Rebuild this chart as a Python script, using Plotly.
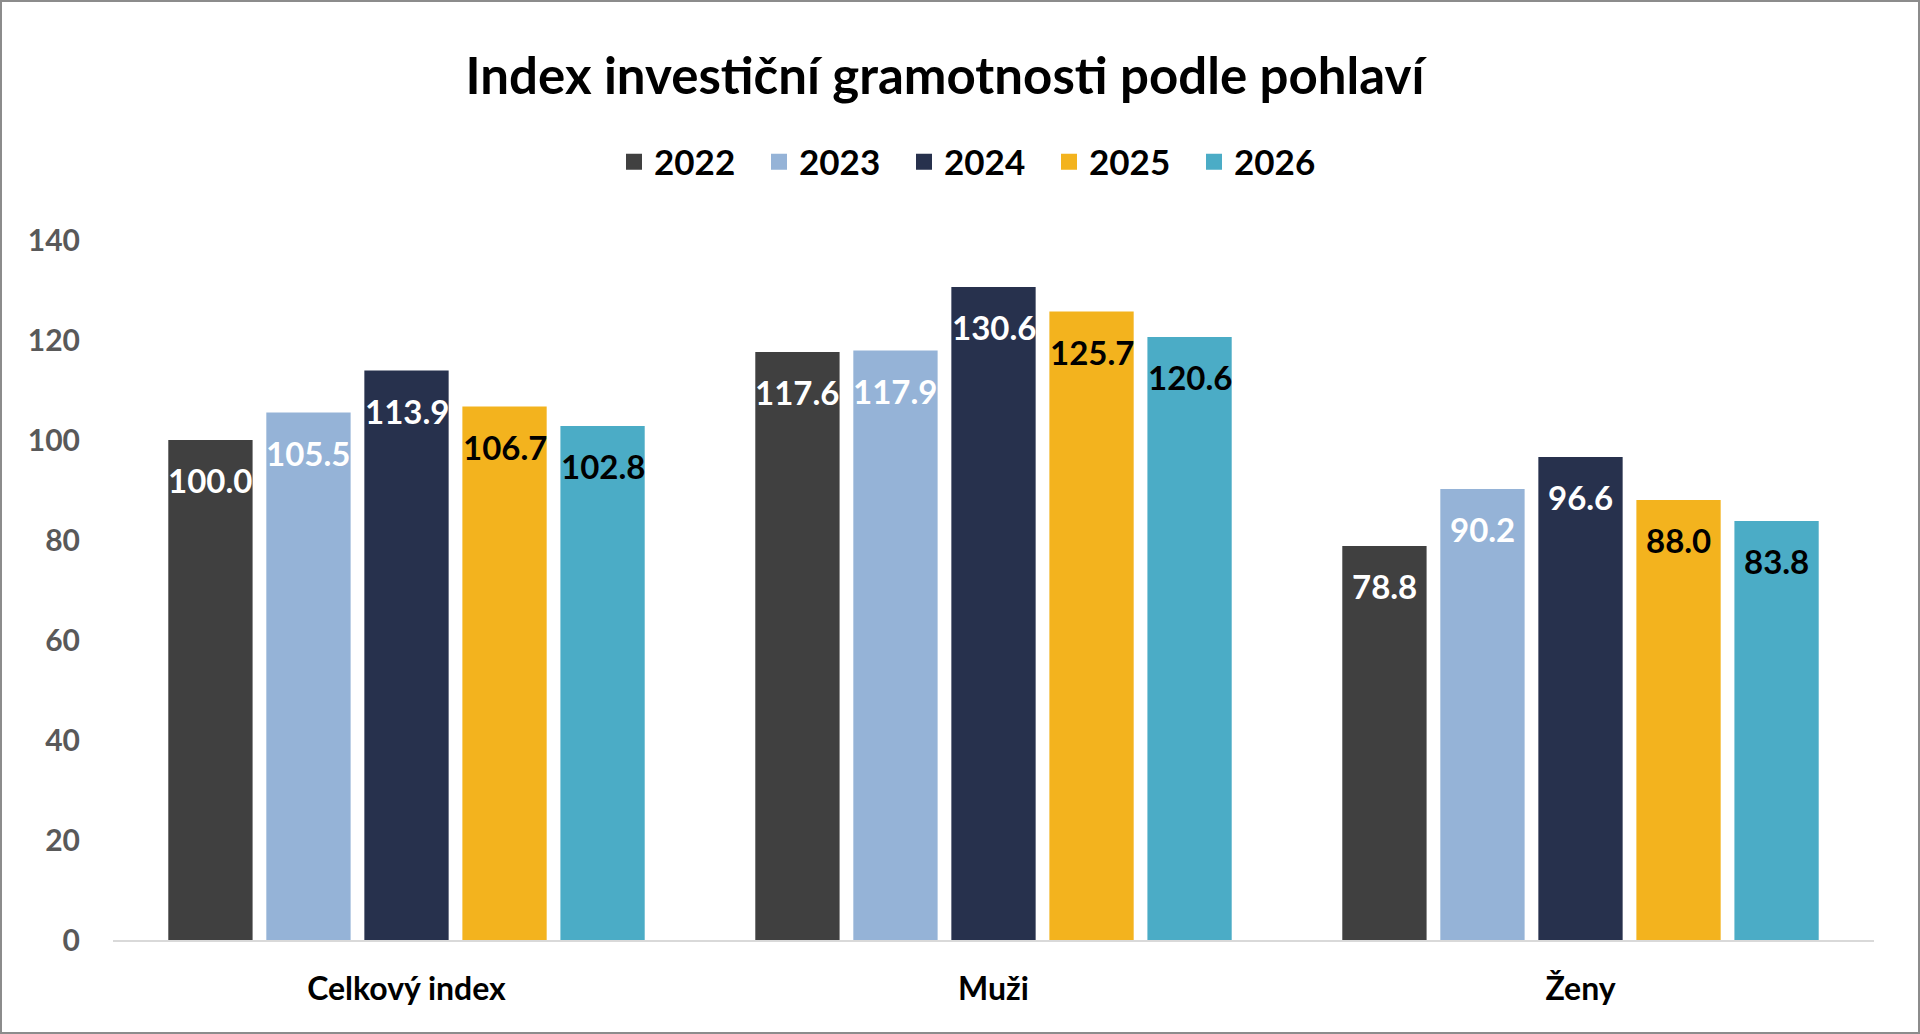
import plotly.graph_objects as go

categories = ["Celkový index", "Muži", "Ženy"]
years = ["2022", "2023", "2024", "2025", "2026"]
v2022 = [100.0, 117.6, 78.8]
v2023 = [105.5, 117.9, 90.2]
v2024 = [113.9, 130.6, 96.6]
v2025 = [106.7, 125.7, 88.0]
v2026 = [102.8, 120.6, 83.8]
series = [v2022, v2023, v2024, v2025, v2026]
colors = ["#404040", "#95B3D7", "#27314D", "#F3B31E", "#4BACC6"]
label_colors = ["white", "white", "white", "black", "black"]
yticks = [0, 20, 40, 60, 80, 100, 120, 140]

W, H = 1920, 1034
ml, mr, mt, mb = 113, 46, 240, 94
pw, ph = W - ml - mr, H - mt - mb
bargap = 0.165
FONT = "Lato"

fig = go.Figure()
n = len(series)
slot = (1 - bargap) / n
annotations = []
for j, (yr, vals, col) in enumerate(zip(years, series, colors)):
    fig.add_trace(go.Bar(x=categories, y=vals, name=yr, marker=dict(color=col, line=dict(width=0)),
                         showlegend=False, hoverinfo="x+y+name"))
    fig.add_trace(go.Scatter(x=[None], y=[None], mode="markers", name=yr,
                             marker=dict(symbol="square", size=22, color=col), showlegend=True))
    for k, v in enumerate(vals):
        annotations.append(dict(x=k + (j - (n - 1) / 2) * slot, y=v, xref="x", yref="y",
                                text=f"{v:.1f}", showarrow=False, yshift=-40,
                                font=dict(family=FONT, size=33, color=label_colors[j], weight="bold")))

fig.update_layout(
    width=W, height=H,
    margin=dict(l=ml, r=mr, t=mt, b=mb, pad=0),
    paper_bgcolor="white", plot_bgcolor="white",
    barmode="group", bargap=bargap, bargroupgap=0.14,
    font=dict(family=FONT),
    title=dict(text="<b>Index investiční gramotnosti podle pohlaví</b>", x=945 / W, xanchor="center",
               y=1 - 76 / H, yanchor="middle", font=dict(family=FONT, size=51, color="black")),
    legend=dict(orientation="h", x=0.5 + (967 - 960 - 24) / pw, xanchor="center", y=1 + (mt - 162) / ph,
                yanchor="middle", font=dict(family=FONT, size=35, color="black", weight="bold"),
                entrywidth=100, itemclick=False),
    xaxis=dict(type="category", showgrid=False, showline=True, linecolor="#D9D9D9", linewidth=2,
               ticks="", ticklabelstandoff=20,
               tickfont=dict(family=FONT, size=32, color="black", weight="bold")),
    yaxis=dict(range=[0, 140], tickvals=yticks, showgrid=False, zeroline=False, showline=False,
               ticks="", ticklabelstandoff=32,
               tickfont=dict(family=FONT, size=30, color="#595959", weight="bold")),
    annotations=annotations,
    shapes=[dict(type="rect", xref="paper", yref="paper",
                 x0=(1 - ml) / pw, x1=1 + (mr - 1) / pw, y0=-(mb - 1) / ph, y1=1 + (mt - 1) / ph,
                 line=dict(color="#8C8C8C", width=2), layer="below")],
)

fig.write_html("out.html", config={"displayModeBar": False},
               post_script="document.body.style.margin='0';document.body.style.overflow='hidden';")
